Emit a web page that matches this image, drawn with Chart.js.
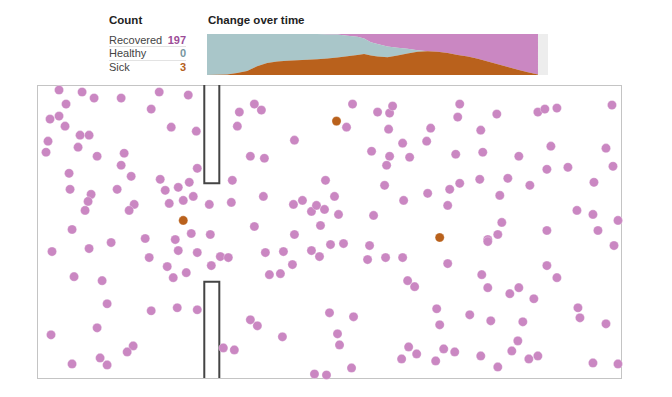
<!DOCTYPE html>
<html>
<head>
<meta charset="utf-8">
<script src="https://cdn.jsdelivr.net/npm/chart.js@4/dist/chart.umd.min.js"></script>
<style>
  html, body { margin:0; padding:0; background:#fff; width:672px; height:397px; overflow:hidden; font-family:"Liberation Sans", Arial, sans-serif; color:#333; }
  .abs { position:absolute; }
  .hdr { font-weight:bold; font-size:11.5px; color:#222; }
  .row { position:absolute; left:109px; width:77px; font-size:11px; height:14px; line-height:14px; color:#444; }
  .row b { position:absolute; right:0; top:0; }
  .sep { position:absolute; left:109px; width:77px; height:1px; background:#e3e3e3; }
</style>
</head>
<body>
<div class="abs hdr" style="left:109px; top:14px;">Count</div>
<div class="abs hdr" style="left:208px; top:14px;">Change over time</div>
<div class="row" style="top:33px;"><span>Recovered</span><b id="vRec" style="color:#9c4c97"></b></div>
<div class="sep" style="top:46px;"></div>
<div class="row" style="top:46px;"><span>Healthy</span><b id="vHea" style="color:#7896a0"></b></div>
<div class="sep" style="top:60px;"></div>
<div class="row" style="top:60px;"><span>Sick</span><b id="vSick" style="color:#b5601c"></b></div>

<canvas id="area" class="abs" style="left:207px; top:34px;" width="341" height="41"></canvas>
<canvas id="sim" class="abs" style="left:27px; top:75px;" width="605" height="313"></canvas>

<script>
// ---- counts ----
const countLabels = ["Recovered", "Healthy", "Sick"];
const countValues = [197, 0, 3];

// ---- change over time (stacked, people out of 200) ----
const days      = [0,3,6,9,12,15,18,21,24,27,30,33,36,39,42,45,47,49,51,54,57,60,63,66,69,72,75,78,81,84,87,90,93,96,99];
const sickSeries      = [0,1,3,10,20,43,59,66,69,72,74,77,80,85,92,97,103,95,90,86,95,105,113,116,113,107,98,90,79,66,52,39,26,13,3];
const healthySeries   = [200,199,197,190,180,157,141,134,131,128,126,123,118,112,100,90,75,65,61,53,38,23,8,0,0,0,0,0,0,0,0,0,0,0,0];
const recoveredSeries = [0,0,0,0,0,0,0,0,0,0,0,0,2,3,8,13,22,40,49,61,67,72,79,84,87,93,102,110,121,134,148,161,174,187,197];

// ---- simulation box: person positions ----
const recoveredX = [22,45,57,84,122,151,29,114,22,13,28,134,159,43,52,11,9,41,60,87,84,32,94,160,33,54,51,48,80,97,92,123,128,141,152,132,146,156,172,194,195,35,154,173,217,224,202,200,213,227,257,288,226,256,265,274,279,287,297,301,283,217,257,309,315,340,352,355,422,420,459,500,507,519,574,351,393,443,365,389,334,352,372,349,418,445,481,513,568,509,530,575,347,390,412,422,442,470,492,462,556,366,410,336,539,555,580,464,509,560,460,450,306,108,138,15,52,74,112,141,160,130,136,149,174,183,191,228,246,255,232,243,274,282,293,37,65,70,114,140,160,14,60,96,90,35,63,70,186,197,213,220,245,292,300,302,277,289,314,332,450,576,330,348,365,410,444,509,519,370,377,450,472,481,496,540,542,568,316,399,402,432,453,485,371,379,364,406,417,398,443,460,480,474,491,500,555,580];
const recoveredY = [5,7,13,13,7,10,19,24,31,34,41,42,46,50,50,56,67,62,71,68,80,88,91,83,104,109,116,125,104,119,125,94,105,102,97,118,115,111,119,117,95,144,148,149,19,25,27,41,71,73,55,95,111,119,115,126,120,124,111,129,140,141,149,42,19,27,28,21,19,32,29,27,24,23,20,44,43,45,58,56,66,71,72,80,69,67,71,61,63,84,82,81,100,108,104,98,94,93,100,110,97,115,120,130,125,129,135,137,145,145,149,154,158,153,154,166,163,157,172,165,167,181,192,187,180,171,172,167,166,179,189,188,165,171,159,191,195,218,225,222,224,249,242,260,266,278,272,279,262,264,234,240,251,227,248,259,288,289,282,160,156,160,174,172,172,178,189,180,192,195,201,202,208,202,213,222,232,238,231,223,239,229,235,236,261,268,273,263,266,275,270,281,255,265,273,270,277,278];
const sickX = [299,146,402];
const sickY = [36,135,152];

// ---- walls (box units) ----
const wallTopX = [167,167,182,182];
const wallTopY = [0,98,98,0];
const wallBottomX = [167,167,182,182];
const wallBottomY = [292,196,196,292];
const BOX_W = 584, BOX_H = 292;

document.getElementById('vRec').textContent = countValues[0];
document.getElementById('vHea').textContent = countValues[1];
document.getElementById('vSick').textContent = countValues[2];

const COL_REC = '#ca87c2', COL_HEA = '#a9c6c9', COL_SICK = '#b9611c';

const toXY = (xs, ys) => xs.map((x, i) => ({x, y: ys[i]}));

// area chart
const bgPlugin = {
  id: 'bg',
  beforeDraw(chart) {
    const {ctx, chartArea:a} = chart;
    ctx.save(); ctx.fillStyle = '#ededed';
    ctx.fillRect(a.left, a.top, a.right - a.left, a.bottom - a.top);
    ctx.restore();
  }
};
new Chart(document.getElementById('area'), {
  type: 'line',
  data: {
    datasets: [
      { label:'Sick', data: toXY(days, sickSeries), backgroundColor: COL_SICK, fill: 'origin' },
      { label:'Healthy', data: toXY(days, healthySeries), backgroundColor: COL_HEA, fill: '-1' },
      { label:'Recovered', data: toXY(days, recoveredSeries), backgroundColor: COL_REC, fill: '-1' }
    ]
  },
  options: {
    responsive:false, animation:false,
    elements: { line: { borderWidth:0, tension:0 }, point: { radius:0 } },
    layout: { padding:0 },
    plugins: { legend:{display:false}, tooltip:{enabled:false} },
    scales: {
      x: { type:'linear', min:0, max:102, display:false },
      y: { stacked:true, min:0, max:200, display:false }
    }
  },
  plugins: [bgPlugin]
});

// simulation box
const framePlugin = {
  id: 'frame',
  beforeDatasetsDraw(chart) {
    const {ctx, chartArea:a} = chart;
    ctx.save(); ctx.strokeStyle = '#c4c4c4'; ctx.lineWidth = 1;
    ctx.strokeRect(a.left + 0.5, a.top + 0.5, a.right - a.left - 1, a.bottom - a.top);
    ctx.restore();
  }
};
new Chart(document.getElementById('sim'), {
  type: 'scatter',
  data: {
    datasets: [
      { data: toXY(recoveredX, recoveredY), backgroundColor: COL_REC, borderColor:'rgba(255,255,255,0.6)', borderWidth:0.5, pointRadius:4.6, order:1 },
      { data: toXY(sickX, sickY), backgroundColor: COL_SICK, borderColor:'rgba(255,255,255,0.6)', borderWidth:0.5, pointRadius:4.6, order:0 },
      { data: toXY(wallTopX, wallTopY), showLine:true, borderColor:'#444', borderWidth:2, pointRadius:0, fill:false, order:2 },
      { data: toXY(wallBottomX, wallBottomY), showLine:true, borderColor:'#444', borderWidth:2, pointRadius:0, fill:false, order:2 }
    ]
  },
  options: {
    responsive:false, animation:false, clip:false,
    layout: { padding:10 },
    plugins: { legend:{display:false}, tooltip:{enabled:false} },
    scales: {
      x: { type:'linear', min:0, max:BOX_W, display:false },
      y: { type:'linear', min:0, max:BOX_H, reverse:true, display:false }
    }
  },
  plugins: [framePlugin]
});
</script>
</body>
</html>
